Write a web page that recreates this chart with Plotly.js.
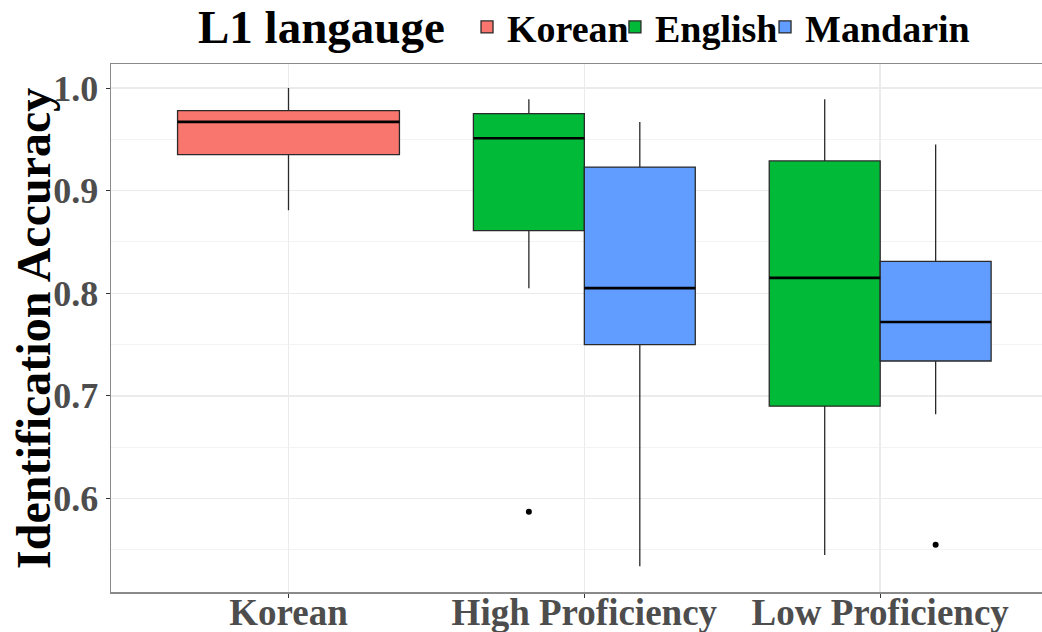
<!DOCTYPE html>
<html>
<head>
<meta charset="utf-8">
<script src="https://cdn.plot.ly/plotly-3.0.1.min.js"></script>
<style>html,body{margin:0;padding:0;background:#fff;}#chart{width:1042px;height:632px;}</style>
</head>
<body>
<div id="chart"></div>
<script>
// Categories on the x axis
const categories = ["Korean", "High Proficiency", "Low Proficiency"];

// Korean L1 group (only in "Korean" category)
const koreanCats = ["Korean"];
const koreanQ1 = [0.935];
const koreanMedian = [0.967];
const koreanQ3 = [0.978];
const koreanLower = [0.881];
const koreanUpper = [1.0];

// English L1 group
const englishCats = ["High Proficiency", "Low Proficiency"];
const englishQ1 = [0.861, 0.690];
const englishMedian = [0.951, 0.815];
const englishQ3 = [0.975, 0.929];
const englishLower = [0.805, 0.545];
const englishUpper = [0.989, 0.989];
const englishOutlierCats = ["High Proficiency"];
const englishOutliers = [0.587];

// Mandarin L1 group
const mandarinCats = ["High Proficiency", "Low Proficiency"];
const mandarinQ1 = [0.750, 0.734];
const mandarinMedian = [0.805, 0.772];
const mandarinQ3 = [0.923, 0.831];
const mandarinLower = [0.534, 0.682];
const mandarinUpper = [0.967, 0.945];
const mandarinOutlierCats = ["Low Proficiency"];
const mandarinOutliers = [0.555];

const FONT = "Liberation Serif, Times New Roman, serif";
const dodge = 0.75;
const idx = c => categories.indexOf(c) + 1;
const pos = (cats, off) => cats.map(c => idx(c) + off);

function boxTrace(name, cats, off, w, q1, med, q3, lo, hi, fill, leg) {
  return {
    type: "box", name: name, legend: leg, x: pos(cats, off), q1: q1, median: med, q3: q3,
    lowerfence: lo, upperfence: hi, width: w, boxpoints: false,
    whiskerwidth: 0, fillcolor: fill, line: {color: "#2a2a2a", width: 1.3},
    hoverinfo: "y"
  };
}
// thicker median line: a flat box drawn at the median value
function medianTrace(cats, off, w, med) {
  return {
    type: "box", x: pos(cats, off), q1: med, median: med, q3: med,
    lowerfence: med, upperfence: med, width: w, boxpoints: false,
    whiskerwidth: 0, fillcolor: "rgba(0,0,0,0)", line: {color: "#000", width: 2.6},
    showlegend: false, hoverinfo: "skip"
  };
}
function outTrace(cats, off, vals) {
  return {
    type: "scatter", mode: "markers", x: pos(cats, off), y: vals,
    marker: {color: "#000", size: 6}, showlegend: false, hoverinfo: "y"
  };
}

const half = dodge / 4;
const data = [
  boxTrace("Korean", koreanCats, 0, dodge, koreanQ1, koreanMedian, koreanQ3, koreanLower, koreanUpper, "#F8766D", "legend"),
  boxTrace("English", englishCats, -half, dodge / 2, englishQ1, englishMedian, englishQ3, englishLower, englishUpper, "#00BA38", "legend2"),
  boxTrace("Mandarin", mandarinCats, half, dodge / 2, mandarinQ1, mandarinMedian, mandarinQ3, mandarinLower, mandarinUpper, "#619CFF", "legend3"),
  medianTrace(koreanCats, 0, dodge, koreanMedian),
  medianTrace(englishCats, -half, dodge / 2, englishMedian),
  medianTrace(mandarinCats, half, dodge / 2, mandarinMedian),
  outTrace(englishOutlierCats, -half, englishOutliers),
  outTrace(mandarinOutlierCats, half, mandarinOutliers)
];

const legBase = {
  orientation: "h", xanchor: "left", yref: "container", y: 0.957, yanchor: "middle",
  font: {family: FONT, size: 38, color: "#000", weight: "bold"},
  itemwidth: 30, bgcolor: "rgba(0,0,0,0)"
};

const layout = {
  width: 1042, height: 632,
  margin: {l: 111, r: 0, t: 64, b: 40, pad: 0},
  paper_bgcolor: "#fff", plot_bgcolor: "#fff",
  boxmode: "overlay",
  font: {family: FONT},
  xaxis: {
    range: [0.4, 3.547], tickvals: categories.map((c, i) => i + 1), ticktext: categories,
    showgrid: true, gridcolor: "#ebebeb", gridwidth: 1.5, zeroline: false,
    showline: true, linecolor: "#8a8a8a", linewidth: 1.5, mirror: true,
    ticks: "outside", ticklen: 4, tickcolor: "#333", tickwidth: 1,
    ticklabelstandoff: -17,
    tickfont: {family: FONT, size: 37, color: "#4d4d4d", weight: "bold"}
  },
  yaxis: {
    range: [0.5089, 1.0234], tickvals: [0.6, 0.7, 0.8, 0.9, 1.0], ticktext: ["0.6", "0.7", "0.8", "0.9", "1.0"],
    showgrid: true, gridcolor: "#ebebeb", gridwidth: 1.5, zeroline: false,
    minor: {dtick: 0.05, tick0: 0.55, showgrid: true, gridcolor: "#f3f3f3", gridwidth: 1},
    showline: true, linecolor: "#8a8a8a", linewidth: 1.5, mirror: true,
    ticks: "outside", ticklen: 4, tickcolor: "#333", tickwidth: 1,
    tickfont: {family: FONT, size: 36, color: "#4d4d4d", weight: "bold"}
  },
  annotations: [
    {text: "Identification Accuracy", xref: "paper", yref: "paper", x: -0.0838, y: 0.5,
     xanchor: "center", yanchor: "middle", textangle: -90, showarrow: false,
     font: {family: FONT, size: 48, color: "#000", weight: "bold"}},
    {text: "L1 langauge", xref: "paper", yref: "paper", x: 0.0913, y: 1.07,
     xanchor: "left", yanchor: "middle", showarrow: false,
     font: {family: FONT, size: 47, color: "#000", weight: "bold"}}
  ],
  showlegend: true,
  legend: Object.assign({}, legBase, {x: 0.3824}),
  legend2: Object.assign({}, legBase, {x: 0.5413}),
  legend3: Object.assign({}, legBase, {x: 0.7025})
};

Plotly.newPlot("chart", data, layout, {displayModeBar: false, staticPlot: true});
</script>
</body>
</html>
